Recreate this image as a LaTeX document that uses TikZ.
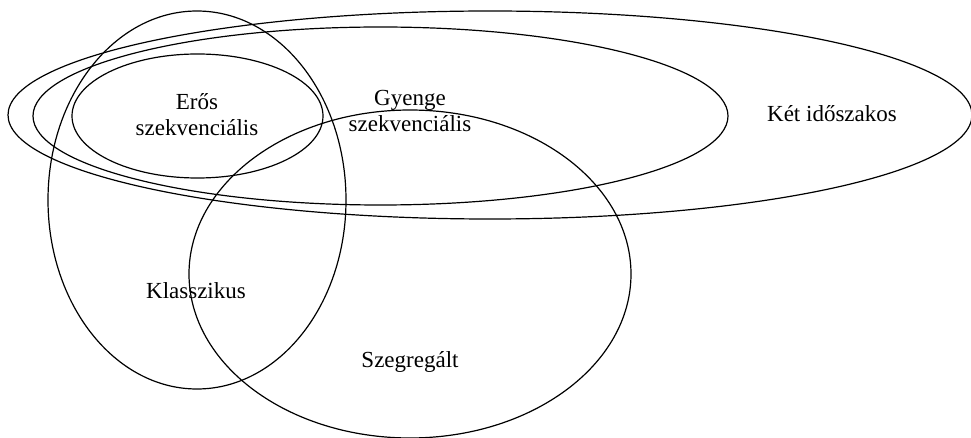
\documentclass[tikz,border=0pt]{standalone}
\usepackage{fontspec}
\setmainfont{Liberation Serif}
\begin{document}
\begin{tikzpicture}[x=0.5pt,y=-0.5pt,
  set/.style={draw=black,line width=0.6pt},
  lbl/.style={align=center,font=\fontsize{11.5}{13}\selectfont,inner sep=0pt}]
\useasboundingbox (0,0) rectangle (971,438);
\begin{scope}
\clip (0,0) rectangle (971,438);
\draw[set] (490,115) ellipse [x radius=482, y radius=104];
\draw[set] (380.5,116) ellipse [x radius=347.5, y radius=89];
\draw[set] (197.5,116) ellipse [x radius=125.5, y radius=62];
\draw[set] (197,200) ellipse [x radius=149, y radius=189];
\draw[set] (410,274) ellipse [x radius=221, y radius=164];
\end{scope}
\node[lbl] (eros) at (197,115) {Erős\\szekvenciális};
\node[lbl] (gyenge) at (410,111) {Gyenge\\szekvenciális};
\node[lbl] (ket) at (832,114) {Két időszakos};
\node[lbl] (klass) at (196,291) {Klasszikus};
\node[lbl] (szeg) at (410,362) {Szegregált};
\end{tikzpicture}
\end{document}
